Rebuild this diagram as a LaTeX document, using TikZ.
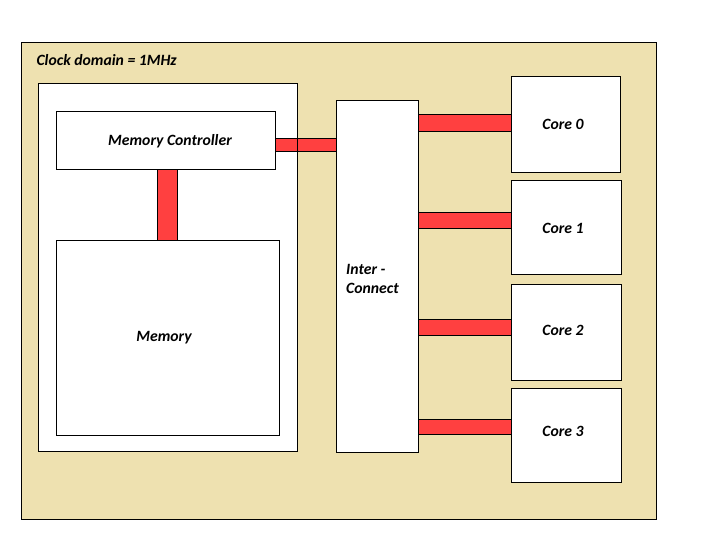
\documentclass[tikz,border=0pt]{standalone}
\usepackage{fontspec}
\setmainfont{Carlito}
\definecolor{tan}{RGB}{238,225,176}
\definecolor{barred}{RGB}{255,64,64}
\begin{document}
\begin{tikzpicture}[x=1pt,y=-1pt,
  box/.style={draw=black,line width=1pt,fill=white},
  bar/.style={draw=black,line width=1pt,fill=barred},
  lbl/.style={font=\fontsize{15.7}{18}\selectfont\bfseries\itshape}]
\useasboundingbox (0,0) rectangle (719,557);
\fill[white] (0,0) rectangle (719,557);
\draw[fill=tan,line width=1pt] (21,42) rectangle (656,519);
\node[lbl,anchor=west] (clk) at (33,60) {Clock domain = 1MHz};
% memory block
\draw[box] (38,83) rectangle (297,451);
\draw[bar] (157,169) rectangle (177,240);
\draw[bar] (275,138) rectangle (297,151);
\draw[bar] (297,138) rectangle (336,151);
\node[box,minimum width=219pt,minimum height=58pt,anchor=north west] (mc) at (56,111) {};
\node[lbl] (mctext) at (170,141.5) {Memory Controller};
\node[box,minimum width=223pt,minimum height=195pt,anchor=north west] (mem) at (56,240) {};
\node[lbl] (memtext) at (164,338) {Memory};
% interconnect
\node[box,minimum width=82pt,minimum height=352pt,anchor=north west] (ic) at (336,100) {};
\node[lbl,anchor=north west,align=left,inner sep=0pt] (ictext) at (346,264) {Inter -\\[1pt]Connect};
% core bars
\draw[bar] (418,114) rectangle (511,131);
\draw[bar] (418,212) rectangle (511,228);
\draw[bar] (418,319) rectangle (511,335);
\draw[bar] (418,419) rectangle (511,434);
% cores
\node[box,minimum width=109pt,minimum height=96pt,anchor=north west] (c0) at (511,76) {};
\node[box,minimum width=110pt,minimum height=94pt,anchor=north west] (c1) at (511,180) {};
\node[box,minimum width=110pt,minimum height=96pt,anchor=north west] (c2) at (511,284) {};
\node[box,minimum width=110pt,minimum height=94pt,anchor=north west] (c3) at (511,388) {};
\node[lbl] at (563,124.5) {Core 0};
\node[lbl] at (563,228) {Core 1};
\node[lbl] at (563,330) {Core 2};
\node[lbl] at (563,431) {Core 3};
\end{tikzpicture}
\end{document}
